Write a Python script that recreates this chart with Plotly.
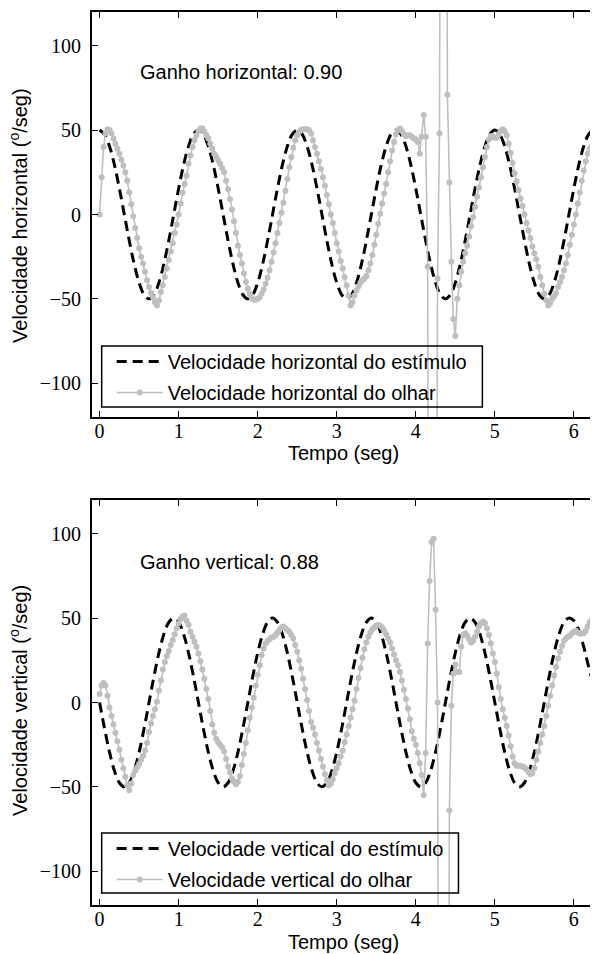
import plotly.graph_objects as go

# ---------------- data ----------------
# Stimulus velocity, sampled every 0.0625 s (deg/s)
stim_dt = 0.0625
stim_h = [
    50, 47.55, 40.45, 29.39, 15.45, 0, -15.45, -29.39, -40.45, -47.55,
    -50, -47.55, -40.45, -29.39, -15.45, 0, 15.45, 29.39, 40.45, 47.55,
    50, 47.55, 40.45, 29.39, 15.45, 0, -15.45, -29.39, -40.45, -47.55,
    -50, -47.55, -40.45, -29.39, -15.45, 0, 15.45, 29.39, 40.45, 47.55,
    50, 47.55, 40.45, 29.39, 15.45, 0, -15.45, -29.39, -40.45, -47.55,
    -50, -47.55, -40.45, -29.39, -15.45, 0, 15.45, 29.39, 40.45, 47.55,
    50, 47.55, 40.45, 29.39, 15.45, 0, -15.45, -29.39, -40.45, -47.55,
    -50, -47.55, -40.45, -29.39, -15.45, 0, 15.45, 29.39, 40.45, 47.55,
    50, 47.55, 40.45, 29.39, 15.45, 0, -15.45, -29.39, -40.45, -47.55,
    -50, -47.55, -40.45, -29.39, -15.45, 0, 15.45, 29.39, 40.45, 47.55,
    50, 47.55,
]
stim_v = [
    0, -15.45, -29.39, -40.45, -47.55, -50, -47.55, -40.45, -29.39, -15.45,
    0, 15.45, 29.39, 40.45, 47.55, 50, 47.55, 40.45, 29.39, 15.45,
    0, -15.45, -29.39, -40.45, -47.55, -50, -47.55, -40.45, -29.39, -15.45,
    0, 15.45, 29.39, 40.45, 47.55, 50, 47.55, 40.45, 29.39, 15.45,
    0, -15.45, -29.39, -40.45, -47.55, -50, -47.55, -40.45, -29.39, -15.45,
    0, 15.45, 29.39, 40.45, 47.55, 50, 47.55, 40.45, 29.39, 15.45,
    0, -15.45, -29.39, -40.45, -47.55, -50, -47.55, -40.45, -29.39, -15.45,
    0, 15.45, 29.39, 40.45, 47.55, 50, 47.55, 40.45, 29.39, 15.45,
    0, -15.45, -29.39, -40.45, -47.55, -50, -47.55, -40.45, -29.39, -15.45,
    0, 15.45, 29.39, 40.45, 47.55, 50, 48.5, 43, 33, 21,
    10, -5,
]

# Gaze velocity, sampled every 0.025 s (deg/s); +-500 = saccade off scale
gaze_dt = 0.025
gaze_h = [
    0, 22, 40, 48, 50.5, 50, 48, 45, 42, 39,
    36, 32.5, 29, 25, 20, 13, 6, -1, -8, -14,
    -20, -25, -29, -34, -39, -43, -46.5, -49, -52, -54,
    -51, -46, -42, -37, -32, -27, -22, -17, -11, -6,
    0, 6.5, 13, 18, 23, 30, 35, 40, 44, 47,
    49.5, 51, 51, 49, 47, 45, 42, 39, 36, 34,
    32, 30, 27.5, 25, 20, 15, 9, 3, -4, -11,
    -18.5, -24, -29, -35, -40, -44, -47, -49.5, -50.5, -50.5,
    -50, -49, -47, -44.5, -41, -37.5, -33, -28, -22.5, -17,
    -11, -5, 1, 7, 14, 21, 28, 34, 39.5, 44,
    47, 49, 50, 50.5, 50.5, 50.5, 50, 48, 44, 40,
    36, 31.5, 27, 22, 17, 11.5, 6, 0, -5, -11,
    -17, -22, -27.5, -32, -37, -42, -48, -54, -52, -48,
    -45, -42.5, -40.5, -39, -38, -36.5, -33, -29, -24, -18,
    -12, -5.5, 0.5, 6.5, 12.5, 18, 25, 31.5, 38, 43,
    47.5, 50, 51, 49.5, 47.5, 46.5, 47, 47, 46, 45,
    44.5, 43, 36, 46, 59, 46, -31, -500, -500, -500,
    -500, -38, 48, 500, 500, 500, 71, 19, -28, -62,
    -72, -50, -42, -34, -28, -23, -18.5, -13, -7, -1.5,
    4.5, 10.5, 16, 22, 28, 34, 40, 44.5, 46.5, 46,
    45.5, 45.5, 47.5, 49.5, 50.5, 49.5, 47, 42, 36.5, 30.5,
    24.5, 19.5, 14.5, 9.5, 5, 0, -5, -9.5, -14, -19,
    -23, -26.5, -31, -37, -42, -47, -51, -54, -52.5, -50,
    -48.5, -46.5, -43, -40, -37, -33, -29, -24, -18, -12,
    -6, 0, 6.5, 13, 20, 26, 31.5, 36, 39, 40.5,
    41.5, 42.5,
]
gaze_v = [
    5, 10, 11.5, 10, 4, -3, -8, -13, -18, -23,
    -28, -34, -39, -44, -49, -52, -48, -43, -40.5, -38.5,
    -36.5, -34, -31.5, -28.5, -24, -17.5, -12.5, -8, -4, 0.5,
    7, 13, 19.5, 24, 27.5, 30.5, 34, 37, 40.5, 44,
    47, 49.5, 51, 51.5, 48.5, 46, 42, 39, 36, 33,
    29, 24.5, 19.5, 14, 8, 2, -5, -13, -18, -21.5,
    -23.5, -25, -26.5, -29, -33.5, -38, -41.5, -45, -47, -48.5,
    -47, -43.5, -37, -30.5, -24, -16.5, -9, -3, 3, 10,
    16.5, 22, 28, 32, 35, 36.5, 37.5, 38.5, 39, 40,
    41.5, 43, 44.5, 45, 44, 43, 42, 40, 38, 34,
    30, 25, 20, 14, 8, 1.5, -5, -11.5, -15, -19,
    -24, -28.5, -33.5, -38, -42.5, -46, -49, -48, -45.5, -42,
    -39, -36, -32, -28.5, -23.5, -19, -14, -9, -4, 1,
    8, 14.5, 20.5, 26.5, 31.5, 35.5, 39, 41.5, 43.5, 44.5,
    45.5, 46, 45.5, 44.5, 42.5, 40.5, 38, 35.5, 32, 28.5,
    25, 22, 18, 13, 7.5, 2, -3.5, -10, -17, -21.5,
    -25, -30, -36, -43, -55, -30, 35, 72, 95, 97,
    55, 0, -500, -500, -500, -500, -500, -64, -2, 17,
    22.5, 18, 18, 33, 40, 41, 39.5, 37.5, 35.5, 36.5,
    39, 42, 45, 47, 48, 47, 44, 40, 35, 29,
    24, 17, 9, 2, -4, -9, -14, -19.5, -26, -32,
    -36, -37.5, -37.5, -37.5, -38, -38.5, -39.5, -41, -42.5, -42,
    -39, -34, -29, -24, -19, -14, -8, -2, 4, 10,
    16, 21, 26, 30, 33.5, 36.5, 38, 39, 39.5, 41,
    42, 42.5, 41.5, 41, 41, 41, 42.5, 45, 47.5, 49,
    50.5, 51,
]

stim_t = [i * stim_dt for i in range(len(stim_h))]
gaze_t = [i * gaze_dt for i in range(len(gaze_h))]

x_ticks = [0, 1, 2, 3, 4, 5, 6]
y_ticks = [-100, -50, 0, 50, 100]

gain_h = "Ganho horizontal: 0.90"
gain_v = "Ganho vertical: 0.88"

# ---------------- layout helpers ----------------
# page body has an 8 px margin, so the figure is drawn 8 px in from the corner
OFF = 8
W, H = 598 - OFF, 954 - OFF
GRAY = "#bfbfbf"
SANS = "Liberation Sans, Arial, Helvetica, sans-serif"
SERIF = "Liberation Serif, Times New Roman, serif"


def px_x(p):
    return (p - OFF) / W


def px_y(p):
    return 1 - (p - OFF) / H


fig = go.Figure()

panels = [
    dict(xa="x", ya="y", leg="legend", stim=stim_h, gaze=gaze_h,
         s_name="Velocidade horizontal do estímulo",
         g_name="Velocidade horizontal do olhar"),
    dict(xa="x2", ya="y2", leg="legend2", stim=stim_v, gaze=gaze_v,
         s_name="Velocidade vertical do estímulo",
         g_name="Velocidade vertical do olhar"),
]

for i, p in enumerate(panels):
    fig.add_trace(go.Scatter(
        x=stim_t, y=p["stim"], mode="lines", name=p["s_name"],
        line=dict(color="black", width=3, dash="10px,6px", shape="spline"),
        xaxis=p["xa"], yaxis=p["ya"], legend=p["leg"], legendgroup="s%d" % i,
    ))
    fig.add_trace(go.Scatter(
        x=gaze_t, y=p["gaze"], mode="lines+markers", name=p["g_name"],
        line=dict(color=GRAY, width=1.6),
        marker=dict(color=GRAY, size=6),
        xaxis=p["xa"], yaxis=p["ya"], legend=p["leg"], legendgroup="g%d" % i,
    ))

axis_style = dict(
    showline=True, linecolor="black", linewidth=1.6, mirror="allticks",
    ticks="inside", ticklen=6, tickwidth=1.2, tickcolor="black",
    showgrid=False, zeroline=False,
    tickfont=dict(family=SERIF, size=20, color="black"),
)

top_dom = [px_y(417), px_y(12)]
bot_dom = [px_y(905), px_y(500)]
x_dom = [px_x(92), 1.0]

legend_style = dict(
    xanchor="left", yanchor="top", borderwidth=0, bgcolor="rgba(0,0,0,0)",
    font=dict(family=SANS, size=20, color="black"), tracegroupgap=2, itemwidth=46,
)

xa_extra = dict(range=[-0.1, 6.28], tickvals=x_ticks, ticklabelstandoff=-5)
ya_extra = dict(range=[-120, 120], tickvals=y_ticks, ticklabelstandoff=5)

fig.update_layout(
    width=W, height=H,
    margin=dict(l=0, r=0, t=0, b=0),
    paper_bgcolor="white", plot_bgcolor="white",
    xaxis=dict(domain=x_dom, anchor="y", **xa_extra, **axis_style),
    yaxis=dict(domain=top_dom, anchor="x", **ya_extra, **axis_style),
    xaxis2=dict(domain=x_dom, anchor="y2", **xa_extra, **axis_style),
    yaxis2=dict(domain=bot_dom, anchor="x2", **ya_extra, **axis_style),
    legend=dict(x=px_x(112), y=px_y(342), **legend_style),
    legend2=dict(x=px_x(112), y=px_y(829), **legend_style),
    showlegend=True,
)

# legend frames
for x0, x1, y0, y1 in [(102, 484, 346, 407), (102, 460, 833, 893)]:
    fig.add_shape(type="rect", xref="paper", yref="paper",
                  x0=px_x(x0), x1=px_x(x1), y0=px_y(y1), y1=px_y(y0),
                  line=dict(color="black", width=1.5), fillcolor="rgba(0,0,0,0)",
                  layer="above")

annots = [
    dict(text=gain_h, x=px_x(138), y=px_y(72), xanchor="left", yanchor="middle"),
    dict(text=gain_v, x=px_x(138), y=px_y(562), xanchor="left", yanchor="middle"),
    dict(text="Tempo (seg)", x=px_x(345), y=px_y(453), xanchor="center", yanchor="middle"),
    dict(text="Tempo (seg)", x=px_x(345), y=px_y(942), xanchor="center", yanchor="middle"),
    dict(text="Velocidade horizontal (<sup>o</sup>/seg)", x=px_x(18), y=px_y(215),
         xanchor="center", yanchor="middle", textangle=-90),
    dict(text="Velocidade vertical (<sup>o</sup>/seg)", x=px_x(18), y=px_y(700),
         xanchor="center", yanchor="middle", textangle=-90),
]
for a in annots:
    fig.add_annotation(xref="paper", yref="paper", showarrow=False,
                       font=dict(family=SANS, size=20, color="black"), **a)

fig.write_html("out.html")
